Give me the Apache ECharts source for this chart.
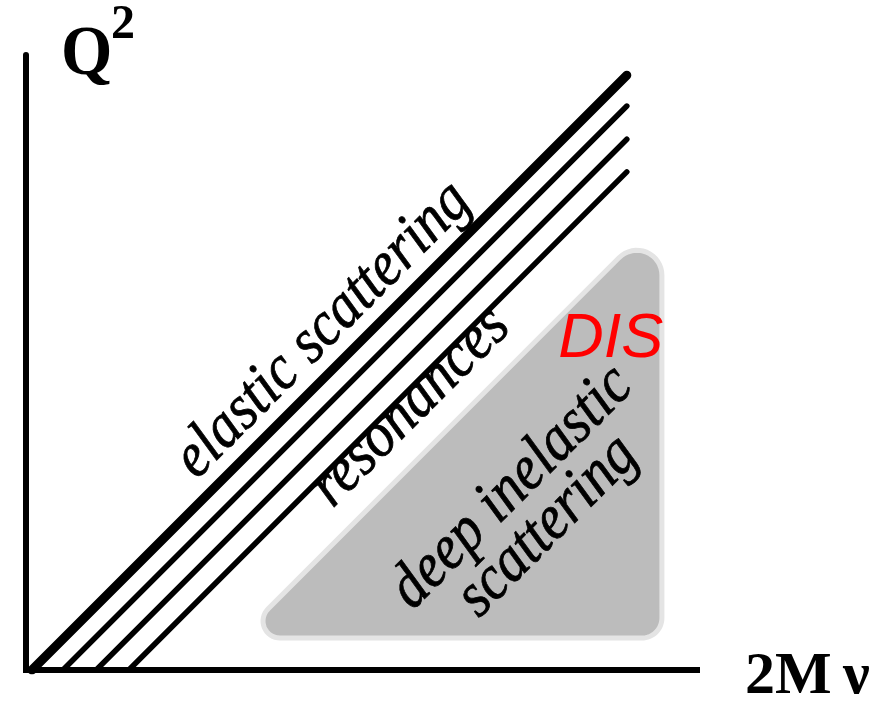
<!DOCTYPE html>
<html>
<head>
<meta charset="utf-8">
<script src="https://cdn.jsdelivr.net/npm/echarts@6/dist/echarts.min.js"></script>
<style>html,body{margin:0;padding:0;background:#fff;}#chart{width:884px;height:704px;}</style>
</head>
<body>
<div id="chart"></div>
<script>
// ---- data (axis units) ----
const xMax = 109;
const yMax = 100;
// kinematic boundary lines (start on the 2Mν axis, end at top right)
const line1X = [0.97, 97.6], line1Y = [0, 96.7];   // elastic
const line2X = [6.0, 97.6],  line2Y = [0, 91.7];
const line3X = [11.4, 97.6], line3Y = [0, 86.3];
const line4X = [16.7, 97.6], line4Y = [0, 81.0];
// DIS region (triangle vertices: top-right, bottom-right, bottom-left)
const disX = [103.3, 103.3, 34.6];
const disY = [74.0, 5.2, 5.2];
// region labels
const labelText = ['elastic scattering', 'resonances', 'deep inelastic', 'scattering'];
const labelX = [48.25, 62.45, 78.95, 84.75];
const labelY = [55.25, 42.75, 29.65, 23.35];
const disLabel = 'DIS';
const disLabelX = [95.0];
const disLabelY = [53.7];

const chart = echarts.init(document.getElementById('chart'), null, {renderer: 'canvas'});

function pairs(xs, ys) { return xs.map((x, i) => [x, ys[i]]); }

function roundedPolygon(pts, radii) {
  const out = [];
  const n = pts.length;
  for (let i = 0; i < n; i++) {
    const P = pts[i], A = pts[(i + n - 1) % n], B = pts[(i + 1) % n];
    let ux = A[0] - P[0], uy = A[1] - P[1];
    let lu = Math.hypot(ux, uy); ux /= lu; uy /= lu;
    let vx = B[0] - P[0], vy = B[1] - P[1];
    let lv = Math.hypot(vx, vy); vx /= lv; vy /= lv;
    const ang = Math.acos(Math.max(-1, Math.min(1, ux * vx + uy * vy)));
    const th = ang / 2;
    const r = radii[i];
    let bx = ux + vx, by = uy + vy;
    const lb = Math.hypot(bx, by); bx /= lb; by /= lb;
    const cd = r / Math.sin(th);
    const cx = P[0] + bx * cd, cy = P[1] + by * cd;
    const d = r / Math.tan(th);
    const t1 = [P[0] + ux * d, P[1] + uy * d];
    const t2 = [P[0] + vx * d, P[1] + vy * d];
    let a1 = Math.atan2(t1[1] - cy, t1[0] - cx);
    let a2 = Math.atan2(t2[1] - cy, t2[0] - cx);
    let da = a2 - a1;
    while (da > Math.PI) da -= 2 * Math.PI;
    while (da < -Math.PI) da += 2 * Math.PI;
    const steps = 16;
    for (let k = 0; k <= steps; k++) {
      const a = a1 + da * k / steps;
      out.push([cx + r * Math.cos(a), cy + r * Math.sin(a)]);
    }
  }
  return out;
}

function lineSeries(xs, ys, w) {
  return {
    type: 'line',
    data: pairs(xs, ys),
    showSymbol: false,
    symbol: 'none',
    silent: true,
    z: 3,
    lineStyle: {color: '#000', width: w, cap: 'round'}
  };
}

const option = {
  animation: false,
  backgroundColor: '#fff',
  grid: {left: 26, top: 55, right: 187, bottom: 34, containLabel: false},
  xAxis: {
    type: 'value', min: 0, max: xMax,
    axisLine: {show: true, onZero: false, lineStyle: {color: '#000', width: 6, cap: 'square'}},
    axisTick: {show: false}, axisLabel: {show: false}, splitLine: {show: false}
  },
  yAxis: {
    type: 'value', min: 0, max: yMax,
    axisLine: {show: true, onZero: false, lineStyle: {color: '#000', width: 6}},
    axisTick: {show: false}, axisLabel: {show: false}, splitLine: {show: false}
  },
  graphic: [
    {type: 'text', x: 61, y: 56, z: 10, scaleY: 1.05,
     style: {text: 'Q', font: 'bold 66px "Liberation Serif"', fill: '#000', align: 'left', verticalAlign: 'middle'}},
    {type: 'text', x: 111, y: 26, z: 10,
     style: {text: '2', font: 'bold 48px "Liberation Serif"', fill: '#000', align: 'left', verticalAlign: 'middle'}},
    {type: 'text', x: 745, y: 677, z: 10,
     style: {text: '2M', font: 'bold 60px "Liberation Serif"', fill: '#000', align: 'left', verticalAlign: 'middle'}},
    {type: 'text', x: 843, y: 677, z: 10,
     style: {text: 'ν', font: 'bold 60px "Liberation Serif"', fill: '#000', align: 'left', verticalAlign: 'middle'}}
  ],
  series: [
    {
      type: 'custom',
      silent: true,
      z: 1,
      data: [0],
      renderItem: function (params, api) {
        const pts = disX.map((x, i) => api.coord([x, disY[i]]));
        const poly = roundedPolygon(pts, [25, 20, 17]);
        return {
          type: 'polygon',
          shape: {points: poly},
          style: {fill: '#bcbcbc', stroke: '#e4e4e4', lineWidth: 5}
        };
      }
    },
    lineSeries(line1X, line1Y, 9),
    lineSeries(line2X, line2Y, 5.5),
    lineSeries(line3X, line3Y, 5.5),
    lineSeries(line4X, line4Y, 5.5),
    {
      type: 'custom',
      silent: true,
      z: 5,
      data: pairs(labelX, labelY),
      encode: {x: 0, y: 1},
      renderItem: function (params, api) {
        const p = api.coord([api.value(0), api.value(1)]);
        return {
          type: 'text',
          x: p[0], y: p[1],
          rotation: Math.PI / 4,
          scaleY: 1.12,
          style: {
            text: labelText[params.dataIndex],
            font: 'italic 57px "Liberation Serif"',
            fill: '#000', stroke: '#000', lineWidth: 0.7,
            align: 'center', verticalAlign: 'middle'
          }
        };
      }
    },
    {
      type: 'custom',
      silent: true,
      z: 5,
      data: pairs(disLabelX, disLabelY),
      encode: {x: 0, y: 1},
      renderItem: function (params, api) {
        const p = api.coord([api.value(0), api.value(1)]);
        return {
          type: 'text',
          x: p[0], y: p[1],
          style: {
            text: disLabel,
            font: 'italic 63px "Liberation Sans"',
            fill: '#ff0000', align: 'center', verticalAlign: 'middle'
          }
        };
      }
    }
  ]
};
chart.setOption(option);
</script>
</body>
</html>
